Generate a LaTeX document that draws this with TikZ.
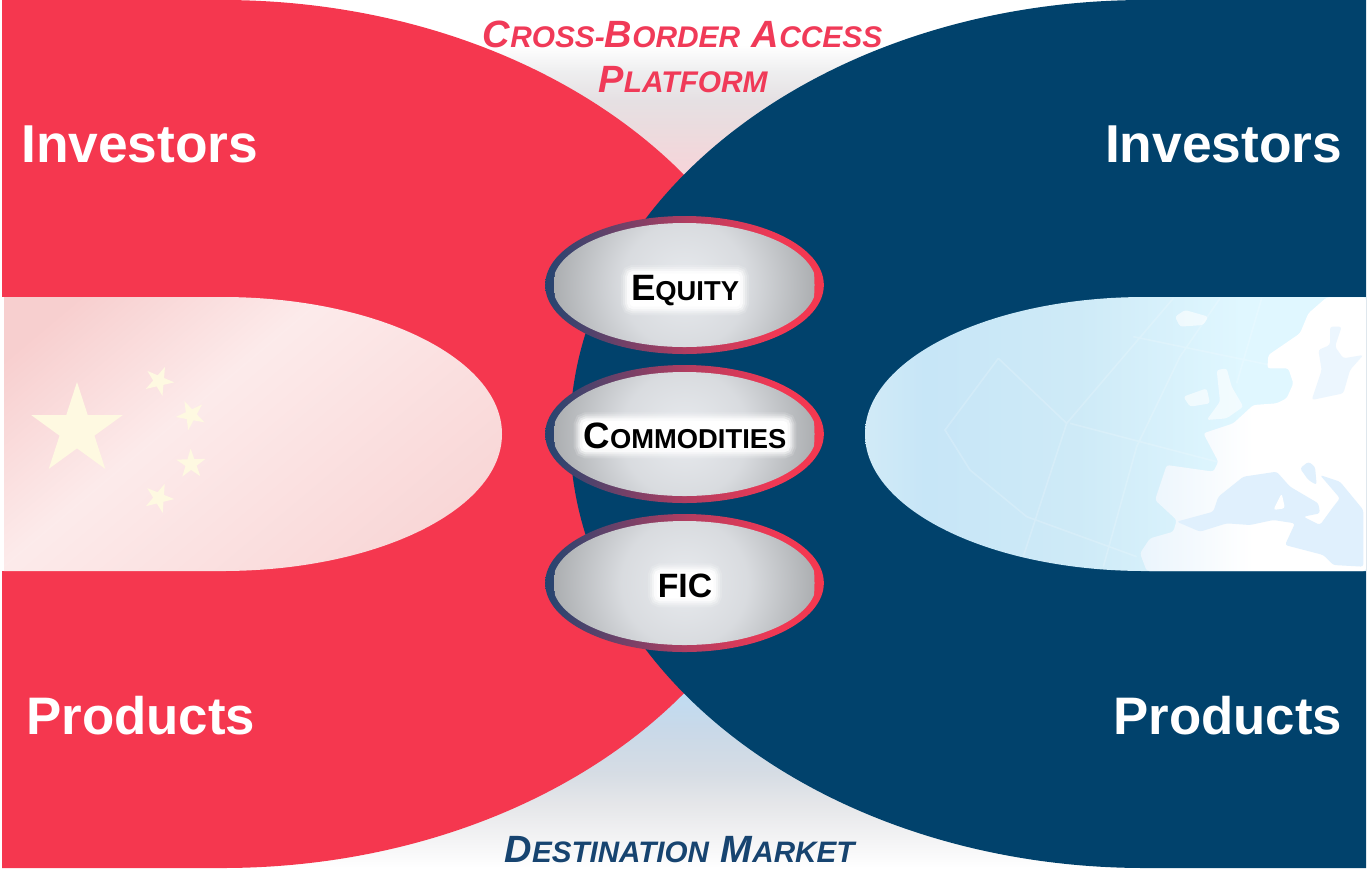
\documentclass[tikz,border=0pt]{standalone}
\usepackage{fontspec}
\setmainfont{Liberation Sans}
\usetikzlibrary{shapes.geometric}
\definecolor{chinared}{HTML}{F5374F}
\definecolor{europeblue}{HTML}{01426C}
\definecolor{titlered}{HTML}{F03A58}
\definecolor{titleblue}{HTML}{174470}
\definecolor{starcream}{HTML}{FEF9E1}
\definecolor{medblue}{HTML}{E0F0FD}
\pgfdeclareverticalshading{upperband}{100bp}{rgb(0bp)=(.97,.83,.85);rgb(25bp)=(.97,.83,.85);rgb(42bp)=(.925,.86,.87);rgb(54bp)=(.90,.88,.89);rgb(65bp)=(.935,.935,.94);rgb(75bp)=(1,1,1);rgb(100bp)=(1,1,1)}
\pgfdeclareverticalshading{lowerband}{100bp}{rgb(0bp)=(1,1,1);rgb(25bp)=(1,1,1);rgb(33bp)=(.955,.955,.96);rgb(43bp)=(.90,.905,.915);rgb(52bp)=(.84,.865,.895);rgb(64bp)=(.79,.85,.91);rgb(75bp)=(.75,.86,.95);rgb(100bp)=(.75,.86,.95)}
\pgfdeclareverticalshading{flagband}{100bp}{rgb(0bp)=(.975,.84,.84);rgb(34bp)=(.975,.84,.84);rgb(44bp)=(.985,.89,.89);rgb(50bp)=(.99,.92,.92);rgb(60bp)=(.97,.81,.81);rgb(100bp)=(.97,.81,.81)}
\pgfdeclarehorizontalshading{mapsea}{100bp}{rgb(0bp)=(.82,.92,.97);rgb(25bp)=(.82,.92,.97);rgb(31bp)=(.78,.90,.97);rgb(47bp)=(.81,.92,.97);rgb(63bp)=(.88,.97,1);rgb(100bp)=(.88,.97,1)}
\pgfdeclarehorizontalshading{mapland}{100bp}{rgb(0bp)=(.92,.96,.99);rgb(25bp)=(.92,.96,.99);rgb(50bp)=(1,1,1);rgb(100bp)=(1,1,1)}
\pgfdeclarehorizontalshading{rimshade}{100bp}{rgb(0bp)=(.14,.27,.44);rgb(25bp)=(.14,.27,.44);rgb(50bp)=(.69,.24,.38);rgb(66bp)=(.94,.22,.33);rgb(75bp)=(.96,.22,.31);rgb(100bp)=(.96,.22,.31)}
\pgfdeclareradialshading{ovalshade}{\pgfpointorigin}{rgb(0bp)=(.91,.92,.935);rgb(12bp)=(.85,.86,.875);rgb(25bp)=(.67,.68,.69);rgb(50bp)=(.67,.68,.69)}
\newcommand{\titlecap}[2]{{\fontsize{28.5}{30}\selectfont #1}{\fontsize{22.4}{30}\selectfont #2}}
\newcommand{\marketcap}[2]{{\fontsize{28.5}{30}\selectfont #1}{\fontsize{22.2}{30}\selectfont #2}}
\newcommand{\ovalcap}[2]{{\fontsize{27.5}{30}\selectfont #1}{\fontsize{20.5}{30}\selectfont #2}}
\tikzset{
	sidelabel/.style={white,font=\fontsize{#1}{44}\selectfont\bfseries,inner sep=0pt},
	toplabel/.style={titlered,font=\bfseries\itshape,inner sep=0pt,anchor=base},
	bottomlabel/.style={titleblue,font=\bfseries\itshape,inner sep=0pt,anchor=base},
	rimoval/.style={ellipse,shade,shading=rimshade,inner sep=0pt,minimum width=209pt,minimum height=103.5pt},
	inneroval/.style={ellipse,inner sep=0pt,minimum width=198pt,minimum height=93pt,
		path picture={\shade[shading=ovalshade] (path picture bounding box.center) circle (130);}},
	ovallabel/.style={black,font=\bfseries,anchor=base,inner sep=1pt,fill=white,rounded corners=3pt,
		preaction={draw=white,draw opacity=.15,line width=13pt},
		preaction={draw=white,draw opacity=.25,line width=10pt},
		preaction={draw=white,draw opacity=.4,line width=7pt},
		preaction={draw=white,draw opacity=.7,line width=4pt}},
	flagstar/.style={star,star points=5,star point ratio=2.618,fill=starcream,inner sep=0pt,minimum size=#1}
}
\begin{document}
\begin{tikzpicture}[x=0.75pt,y=-0.75pt]
	\useasboundingbox (0,0) rectangle (1367,869);
	\shade[shading=upperband] (222,45) rectangle (1145,175);
	\shade[shading=lowerband] (222,693) rectangle (1145,868);
	% red side
	\fill[chinared] (2,0) -- (222,0) arc[start angle=-90,end angle=90,x radius=576,y radius=434] -- (2,868) -- cycle;
	\fill[white] (0,297) rectangle (222,571);
	\begin{scope}
		\clip (4,297) -- (222,297) arc[start angle=-90,end angle=90,x radius=280,y radius=137] -- (4,571) -- cycle;
		\shade[shading=flagband,shading angle=40] (-235,30) rectangle (565,830);
	\end{scope}
	\node[flagstar=72pt] (bigstar) at (77,430) {};
	\node[flagstar=23pt,rotate=-23] (starone) at (159,381) {};
	\node[flagstar=23pt,rotate=25.5] (startwo) at (191,415) {};
	\node[flagstar=23pt,rotate=1.4] (starthree) at (191,464) {};
	\node[flagstar=23pt,rotate=-22] (starfour) at (159,498) {};
	% blue side
	\fill[europeblue] (1366,0) -- (1145,0) arc[start angle=-90,end angle=-270,x radius=575,y radius=434] -- (1366,868) -- cycle;
	\begin{scope}
		\clip (1366,297) -- (1145,297) arc[start angle=-90,end angle=-270,x radius=280,y radius=137] -- (1366,571) -- cycle;
		\shade[shading=mapsea] (865,297) rectangle (1366,571);
		\begin{scope}[shift={(860,290)},x=0.25pt,y=-0.25pt,rounded corners=2pt]
			% grid of the globe
			\draw[white,opacity=.18,line width=1.2pt,sharp corners] (1205,25) -- (1130,280) (1080,25) -- (960,200) -- (830,470) -- (730,830)
				(940,25) -- (620,400) -- (480,830) (820,140) -- (1230,225) (630,400) -- (1070,515)
				(330,540) -- (500,680) -- (830,800) (415,205) -- (255,420) -- (330,540) (415,205) -- (620,400);
			\shade[shading=mapland] (1400,22) -- (1518,22) -- (1518,843) -- (860,843) -- (840,790) -- (870,745) -- (940,725) -- (950,690)
				-- (885,630) -- (920,525) -- (1060,545) -- (1075,515) -- (1030,430) -- (1120,400) -- (1180,345) -- (1250,340) -- (1280,325)
				-- (1300,280) -- (1285,235) -- (1222,235) -- (1225,195) -- (1320,130) -- (1345,70) -- cycle;
			\fill[medblue] (950,695) -- (1060,665) -- (1075,620) -- (1150,560) -- (1250,545) -- (1290,590) -- (1375,640) -- (1380,670)
				-- (1330,680) -- (1380,705) -- (1420,650) -- (1440,625) -- (1380,555) -- (1440,575) -- (1510,660) -- (1510,830) -- (1420,825)
				-- (1390,795) -- (1275,765) -- (1305,700) -- (1240,690) -- (1170,705) -- (1100,700) -- (1020,725) -- cycle;
			\fill[medblue] (1320,535) -- (1345,515) -- (1365,530) -- (1370,585) -- (1345,570) -- cycle;
			\fill[white] (1240,660) -- (1265,610) -- (1275,655) -- cycle;
			\fill[medblue!60!white] (1375,180) -- (1410,165) -- (1410,110) -- (1445,110) -- (1425,170) -- (1450,205) -- (1510,195)
				-- (1470,240) -- (1450,310) -- (1355,330) -- (1385,240) -- cycle;
			\fill[white,opacity=.6] (1070,240) -- (1100,235) -- (1115,290) -- (1150,350) -- (1100,385) -- (1040,390) -- (1080,335) -- cycle;
			\fill[white,opacity=.6] (970,320) -- (1040,295) -- (1050,340) -- (990,350) -- cycle;
			\fill[white,opacity=.6] (945,80) -- (975,60) -- (1045,80) -- (1030,105) -- (960,110) -- cycle;
		\end{scope}
	\end{scope}
	% the three ovals
	\foreach \ovalname/\ovaly in {equity/285,commodities/434,fic/583}{
		\node[rimoval] (\ovalname rim) at (684.5,\ovaly) {};
		\node[inneroval] (\ovalname) at (684.5,\ovaly) {};
	}
	\node[ovallabel] (equitytext) at (685,300) {\ovalcap{E}{QUITY}};
	\node[ovallabel] (commoditiestext) at (685,448) {\ovalcap{C}{OMMODITIES}};
	\node[ovallabel] (fictext) at (685,597) {\fontsize{25.3}{30}\selectfont FIC};
	% side labels
	\node[sidelabel=40,anchor=base west] (investorsleft) at (21,162) {Investors};
	\node[sidelabel=40,anchor=base east] (investorsright) at (1342.5,162) {Investors};
	\node[sidelabel=39.6,anchor=base west] (productsleft) at (26,734) {Products};
	\node[sidelabel=39.6,anchor=base east] (productsright) at (1342.5,734) {Products};
	\node[toplabel] (platformline) at (682.5,47) {\titlecap{C}{ROSS-}\titlecap{B}{ORDER} \hspace{6pt}\titlecap{A}{CCESS}};
	\node[toplabel] (platformname) at (683,92) {\titlecap{P}{LATFORM}};
	\node[bottomlabel] (destination) at (679.5,862) {\marketcap{D}{ESTINATION} \hspace{6pt}\marketcap{M}{ARKET}};
\end{tikzpicture}
\end{document}
